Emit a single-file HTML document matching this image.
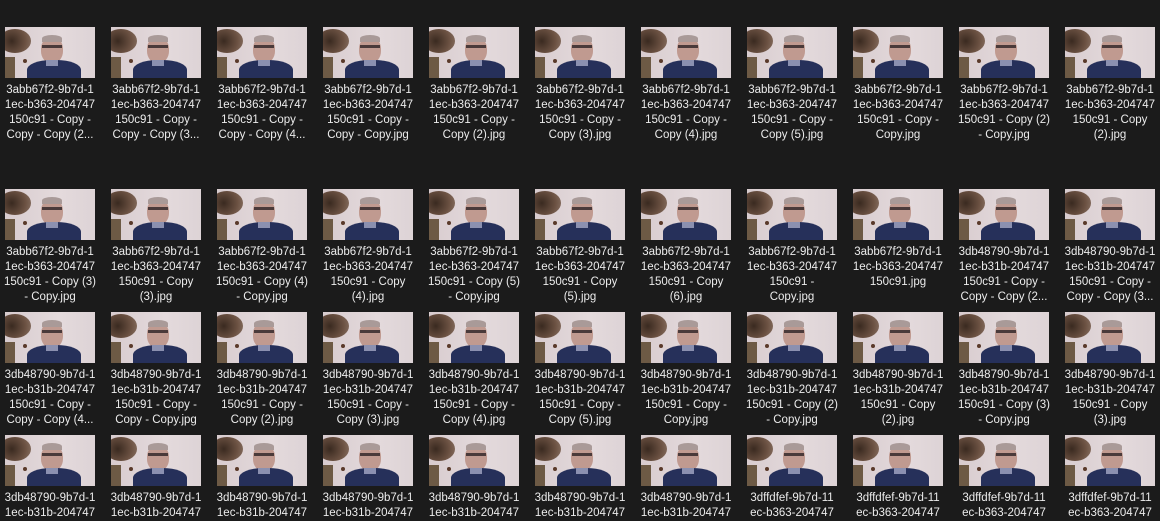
<!DOCTYPE html>
<html><head><meta charset="utf-8"><style>
html,body{margin:0;padding:0;background:#1b1b1b;width:1160px;height:509px;overflow:hidden;font-family:"Liberation Sans",sans-serif}
.cell{position:absolute;width:100px}
.th{position:absolute;left:5px;top:0;width:90px;height:51px;overflow:hidden;background:linear-gradient(90deg,#d8cccf 0%,#e4dadc 60%,#ddd3d6 100%)}
.th div{position:absolute}
.lb{position:absolute;top:56px;left:-3px;width:106px;text-align:center;color:#ececec;font-size:11.5px;line-height:15px;white-space:nowrap}
</style></head><body>
<div id="grid"></div>
<script>
const rowsY=[27,189,312,435];
const A=["3abb67f2-9b7d-1","1ec-b363-204747"],B=["3db48790-9b7d-1","1ec-b31b-204747"],C=["3dffdfef-9b7d-11","ec-b363-204747"];
const cells=[
[[...A,"150c91 - Copy -","Copy - Copy (2..."],[...A,"150c91 - Copy -","Copy - Copy (3..."],[...A,"150c91 - Copy -","Copy - Copy (4..."],[...A,"150c91 - Copy -","Copy - Copy.jpg"],[...A,"150c91 - Copy -","Copy (2).jpg"],[...A,"150c91 - Copy -","Copy (3).jpg"],[...A,"150c91 - Copy -","Copy (4).jpg"],[...A,"150c91 - Copy -","Copy (5).jpg"],[...A,"150c91 - Copy -","Copy.jpg"],[...A,"150c91 - Copy (2)","- Copy.jpg"],[...A,"150c91 - Copy","(2).jpg"]],
[[...A,"150c91 - Copy (3)","- Copy.jpg"],[...A,"150c91 - Copy","(3).jpg"],[...A,"150c91 - Copy (4)","- Copy.jpg"],[...A,"150c91 - Copy","(4).jpg"],[...A,"150c91 - Copy (5)","- Copy.jpg"],[...A,"150c91 - Copy","(5).jpg"],[...A,"150c91 - Copy","(6).jpg"],[...A,"150c91 -","Copy.jpg"],[...A,"150c91.jpg"],[...B,"150c91 - Copy -","Copy - Copy (2..."],[...B,"150c91 - Copy -","Copy - Copy (3..."]],
[[...B,"150c91 - Copy -","Copy - Copy (4..."],[...B,"150c91 - Copy -","Copy - Copy.jpg"],[...B,"150c91 - Copy -","Copy (2).jpg"],[...B,"150c91 - Copy -","Copy (3).jpg"],[...B,"150c91 - Copy -","Copy (4).jpg"],[...B,"150c91 - Copy -","Copy (5).jpg"],[...B,"150c91 - Copy -","Copy.jpg"],[...B,"150c91 - Copy (2)","- Copy.jpg"],[...B,"150c91 - Copy","(2).jpg"],[...B,"150c91 - Copy (3)","- Copy.jpg"],[...B,"150c91 - Copy","(3).jpg"]],
[B,B,B,B,B,B,B,C,C,C,C]
];
const thumbHTML='<div style="left:-6px;top:2px;width:32px;height:24px;border-radius:50%;background:radial-gradient(circle at 40% 50%,#3a2a20,#6b5142 60%,#8c7466)"></div>'+
'<div style="left:0;top:30px;width:10px;height:21px;background:#6d5a45"></div>'+
'<div style="left:18px;top:32px;width:4px;height:4px;border-radius:50%;background:#5a3a2a"></div>'+
'<div style="left:36px;top:10px;width:22px;height:26px;border-radius:45%;background:#c09a90"></div>'+
'<div style="left:37px;top:8px;width:20px;height:7px;border-radius:50% 50% 0 0;background:#a99a98"></div>'+
'<div style="left:37px;top:18px;width:20px;height:3px;background:#4a3a3a"></div>'+
'<div style="left:22px;top:33px;width:54px;height:22px;border-radius:45% 45% 0 0;background:#26305a"></div>'+
'<div style="left:41px;top:33px;width:12px;height:6px;background:#8b90b0"></div>';
const g=document.getElementById('grid');
cells.forEach((row,r)=>row.forEach((lines,c)=>{
  const d=document.createElement('div');
  d.className='cell';
  d.style.left=(106*c)+'px';d.style.top=rowsY[r]+'px';
  
  
  const t=document.createElement('div');t.className='th';t.innerHTML=thumbHTML;
  
  
  const l=document.createElement('div');l.className='lb';l.innerHTML=lines.join('<br>');
  
  
  d.appendChild(t);d.appendChild(l);g.appendChild(d);
}));
</script>
</body></html>
